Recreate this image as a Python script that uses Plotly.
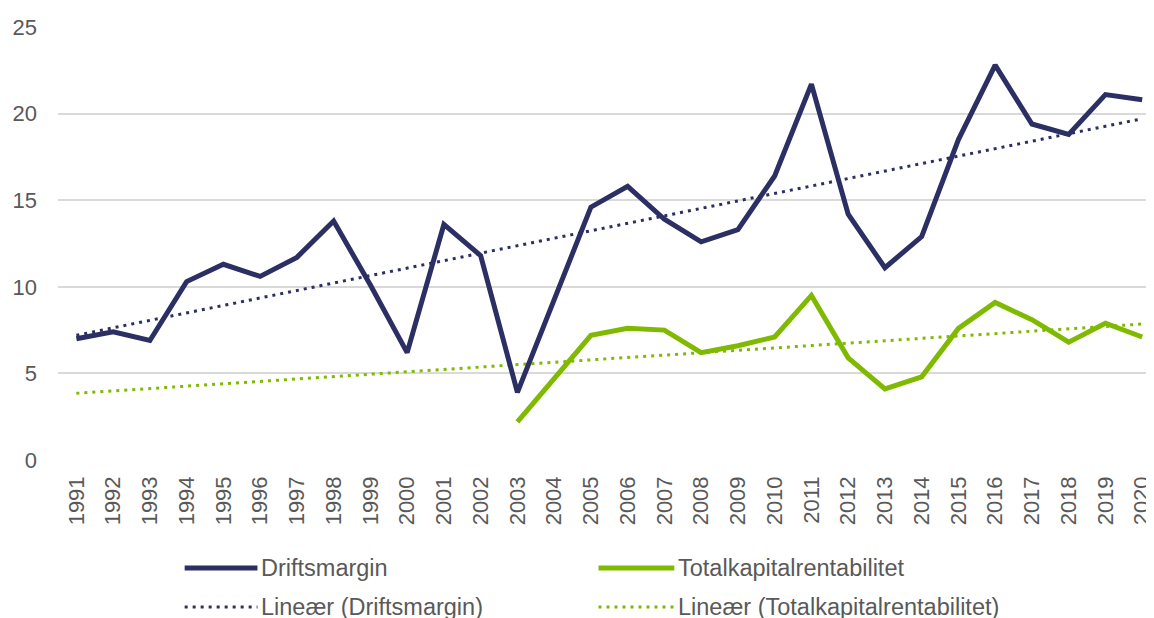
import plotly.graph_objects as go

years = [str(y) for y in range(1991, 2021)]

driftsmargin = [7.0, 7.4, 6.9, 10.3, 11.3, 10.6, 11.7, 13.8, 10.1, 6.2,
                13.6, 11.8, 3.9, 9.2, 14.6, 15.8, 13.9, 12.6, 13.3, 16.4,
                21.7, 14.2, 11.1, 12.9, 18.5, 22.8, 19.4, 18.8, 21.1, 20.8]

totalkapital = [None, None, None, None, None, None, None, None, None, None,
                None, None, 2.2, 4.7, 7.2, 7.6, 7.5, 6.2, 6.6, 7.1,
                9.5, 5.9, 4.1, 4.8, 7.6, 9.1, 8.1, 6.8, 7.9, 7.1]

# trend line end points
trend_years = ["1991", "2020"]
drift_trend = [7.2, 19.7]
tkr_trend = [3.85, 7.85]

legend_names = ["Driftsmargin", "Totalkapitalrentabilitet",
                "Lineær (Driftsmargin)", "Lineær (Totalkapitalrentabilitet)"]

NAVY = "#2b2f63"
GREEN = "#7fba00"
GREY = "#595959"
FONT = "Liberation Sans, Arial, sans-serif"

OFF = 8  # page body margin
W, H = 1154 - OFF, 618 - OFF
ML, MT, MB = 58 - OFF, 27 - OFF, 158
PW = W - ML
PH = H - MT - MB

fig = go.Figure()
fig.add_trace(go.Scatter(x=trend_years, y=drift_trend, mode="lines",
                         line=dict(color=NAVY, width=3, dash="3px,5px"),
                         showlegend=False, hoverinfo="skip"))
fig.add_trace(go.Scatter(x=trend_years, y=tkr_trend, mode="lines",
                         line=dict(color=GREEN, width=3, dash="3px,5px"),
                         showlegend=False, hoverinfo="skip"))
fig.add_trace(go.Scatter(x=years, y=driftsmargin, mode="lines", name=legend_names[0],
                         line=dict(color=NAVY, width=5), showlegend=False))
fig.add_trace(go.Scatter(x=years, y=totalkapital, mode="lines", name=legend_names[1],
                         line=dict(color=GREEN, width=5), showlegend=False))

def px_x(p):
    return (p - OFF - ML) / PW

def px_y(p):
    return (MT + PH - (p - OFF)) / PH

legend_items = [
    (185, 258, 568, NAVY, "solid", legend_names[0]),
    (600, 676, 568, GREEN, "solid", legend_names[1]),
    (185, 258, 607, NAVY, "dot", legend_names[2]),
    (600, 676, 607, GREEN, "dot", legend_names[3]),
]
shapes = []
annotations = []
for x0, x1, yy, col, style, name in legend_items:
    if style == "solid":
        ln = dict(color=col, width=5)
    else:
        ln = dict(color=col, width=3, dash="3px,5px")
    shapes.append(dict(type="line", xref="paper", yref="paper",
                       x0=px_x(x0), x1=px_x(x1), y0=px_y(yy), y1=px_y(yy), line=ln))
    annotations.append(dict(xref="paper", yref="paper", x=px_x(x1 + 2), y=px_y(yy),
                            xanchor="left", yanchor="middle", text=name, showarrow=False,
                            font=dict(family=FONT, size=23.5, color=GREY)))

fig.update_layout(
    width=W, height=H,
    margin=dict(l=ML, r=0, t=MT, b=MB),
    paper_bgcolor="white", plot_bgcolor="white",
    font=dict(family=FONT, color=GREY),
    shapes=shapes, annotations=annotations,
    showlegend=False,
)
fig.update_xaxes(type="category", categoryorder="array", categoryarray=years,
                 range=[-0.5, 29.24], tickangle=-90, showgrid=False, zeroline=False,
                 showline=False, ticks="", ticklabelstandoff=11,
                 tickfont=dict(family=FONT, size=22, color=GREY))
fig.update_yaxes(range=[0, 25], dtick=5, showgrid=True, gridcolor="#d9d9d9", gridwidth=1.5,
                 zeroline=False, showline=False, ticks="", ticklabelstandoff=20,
                 tickfont=dict(family=FONT, size=22, color=GREY))

fig.write_html("out.html")
